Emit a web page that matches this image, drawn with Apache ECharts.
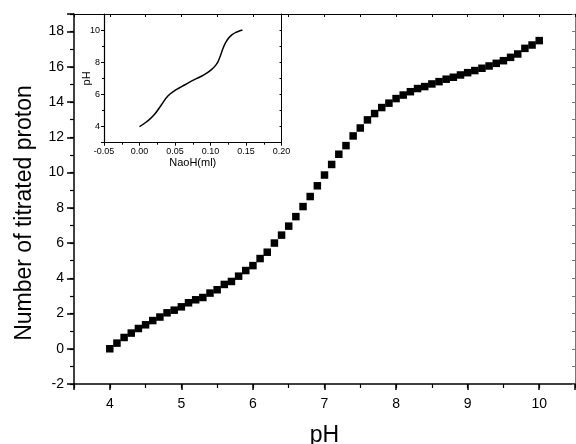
<!DOCTYPE html>
<html>
<head>
<meta charset="utf-8">
<script src="https://cdn.jsdelivr.net/npm/echarts@6/dist/echarts.min.js"></script>
<style>
html,body{margin:0;padding:0;background:#fff;}
#chart{width:576px;height:444px;}
</style>
</head>
<body>
<div id="chart"></div>
<script>
// Main chart: pH vs number of titrated proton
const pHValues = [4.0,4.1,4.2,4.3,4.4,4.5,4.6,4.7,4.8,4.9,
  5.0,5.1,5.2,5.3,5.4,5.5,5.6,5.7,5.8,5.9,
  6.0,6.1,6.2,6.3,6.4,6.5,6.6,6.7,6.8,6.9,
  7.0,7.1,7.2,7.3,7.4,7.5,7.6,7.7,7.8,7.9,
  8.0,8.1,8.2,8.3,8.4,8.5,8.6,8.7,8.8,8.9,
  9.0,9.1,9.2,9.3,9.4,9.5,9.6,9.7,9.8,9.9,10.0];
const protonValues = [0.00,0.32,0.64,0.89,1.15,1.36,1.60,1.80,2.04,2.19,
  2.38,2.61,2.78,2.91,3.16,3.35,3.65,3.82,4.12,4.44,
  4.72,5.12,5.48,6.00,6.45,6.96,7.50,8.07,8.64,9.25,
  9.86,10.46,11.04,11.53,12.08,12.53,12.99,13.35,13.69,13.94,
  14.20,14.40,14.59,14.77,14.88,15.03,15.16,15.30,15.41,15.54,
  15.67,15.79,15.92,16.05,16.20,16.35,16.54,16.73,17.05,17.24,17.49];

// Inset: NaOH volume vs pH
const naohValues = [0,0.01,0.02,0.03,0.04,0.05,0.06,0.07,0.08,0.09,0.10,0.108,0.113,0.118,0.123,0.13,0.138,0.145];
const insetPH   = [4.0,4.3,4.7,5.3,5.9,6.25,6.5,6.75,6.98,7.2,7.5,7.85,8.3,8.9,9.35,9.7,9.9,10.0];

const mainData = pHValues.map((x,i)=>[x, protonValues[i]]);
const insetData = naohValues.map((x,i)=>[x, insetPH[i]]);

const FONT = 'Liberation Sans, Arial, sans-serif';
const isInt = v => Math.abs(v - Math.round(v)) < 1e-9;

const chart = echarts.init(document.getElementById('chart'), null, {renderer:'canvas'});
const noSplit = {show:false};
const option = {
  animation:false,
  backgroundColor:'#fff',
  textStyle:{fontFamily:FONT},
  grid:[
    {left:74, top:14, right:1, bottom:60, containLabel:false, outerBoundsMode:'none'},
    {left:104, top:14, right:294.5, bottom:301.3, containLabel:false, outerBoundsMode:'none',
     show:true, backgroundColor:'#fff', borderWidth:0}
  ],
  xAxis:[
    {gridIndex:0, type:'value', min:3.5, max:10.5, splitNumber:7, position:'bottom',
     axisLine:{show:true, onZero:false, lineStyle:{color:'#000', width:1.5}},
     axisTick:{show:true, length:6, lineStyle:{color:'#000', width:1.5}},
     axisLabel:{fontSize:14, color:'#000', margin:13, fontFamily:FONT,
       formatter:v=>isInt(v)?String(Math.round(v)):''},
     splitLine:noSplit,
     name:'pH', nameLocation:'middle', nameGap:40,
     nameTextStyle:{fontSize:23, color:'#000', fontFamily:FONT}},
    {gridIndex:0, type:'value', min:3.5, max:10.5, interval:0.5, position:'bottom',
     axisLine:{show:false, onZero:false},
     axisTick:{show:true, length:4, lineStyle:{color:'#000', width:1.2}},
     axisLabel:{show:false}, splitLine:noSplit},
    {gridIndex:0, type:'value', min:3.5, max:10.5, interval:0.5, position:'top',
     axisLine:{show:true, onZero:false, lineStyle:{color:'#000', width:1}},
     axisTick:{show:true, inside:true, length:3, lineStyle:{color:'#000'}},
     axisLabel:{show:false}, splitLine:noSplit},
    {gridIndex:1, type:'value', min:-0.05, max:0.20, interval:0.05, position:'bottom',
     axisLine:{show:true, onZero:false, lineStyle:{color:'#000', width:1.2}},
     axisTick:{show:true, length:3, lineStyle:{color:'#000'}},
     minorTick:{show:true, splitNumber:2, length:2, lineStyle:{color:'#000'}},
     axisLabel:{fontSize:9, color:'#000', margin:4, fontFamily:FONT,
       formatter:v=>(Math.abs(v)<1e-9?0:v).toFixed(2)},
     splitLine:noSplit,
     name:'NaoH(ml)', nameLocation:'middle', nameGap:15,
     nameTextStyle:{fontSize:11, color:'#000', fontFamily:FONT}}
  ],
  yAxis:[
    {gridIndex:0, type:'value', min:-2, max:19, interval:2, position:'left',
     axisLine:{show:true, onZero:false, lineStyle:{color:'#000', width:1.5}},
     axisTick:{show:true, length:7, lineStyle:{color:'#000', width:1.5}},
     axisLabel:{fontSize:14, color:'#000', margin:10, fontFamily:FONT,
       formatter:v=>(v<=18 && isInt(v/2))?String(Math.round(v)):''},
     splitLine:noSplit,
     name:'Number of titrated proton', nameLocation:'middle', nameGap:38,
     nameTextStyle:{fontSize:23, color:'#000', fontFamily:FONT, padding:[0,28,0,0]}},
    {gridIndex:0, type:'value', min:-2, max:19, interval:1, position:'left',
     axisLine:{show:false, onZero:false},
     axisTick:{show:true, length:4, lineStyle:{color:'#000', width:1.2}},
     axisLabel:{show:false}, splitLine:noSplit},
    {gridIndex:0, type:'value', min:-2, max:19, interval:1, position:'right',
     axisLine:{show:true, onZero:false, lineStyle:{color:'#777', width:1}},
     axisTick:{show:true, inside:true, length:3, lineStyle:{color:'#777'}},
     axisLabel:{show:false}, splitLine:noSplit},
    {gridIndex:1, type:'value', min:3, max:11, splitNumber:4, position:'left',
     axisLine:{show:true, onZero:false, lineStyle:{color:'#000', width:1.2}},
     axisTick:{show:true, length:3, lineStyle:{color:'#000'}},
     axisLabel:{fontSize:9, color:'#000', margin:4, fontFamily:FONT,
       formatter:v=>(isInt(v/2))?String(Math.round(v)):''},
     splitLine:noSplit,
     name:'pH', nameLocation:'middle', nameGap:12, nameMoveOverlap:false,
     nameTextStyle:{fontSize:11, color:'#000', fontFamily:FONT}},
    {gridIndex:1, type:'value', min:3, max:11, interval:1, position:'left',
     axisLine:{show:false, onZero:false},
     axisTick:{show:true, length:2, lineStyle:{color:'#000'}},
     axisLabel:{show:false}, splitLine:noSplit},
    {gridIndex:1, type:'value', min:3, max:11, interval:1, position:'right',
     axisLine:{show:true, onZero:false, lineStyle:{color:'#000', width:1}},
     axisTick:{show:true, inside:true, length:2, lineStyle:{color:'#000'}},
     axisLabel:{show:false}, splitLine:noSplit}
  ],
  series:[
    {type:'scatter', xAxisIndex:0, yAxisIndex:0, data:mainData,
     symbol:'rect', symbolSize:7.5, itemStyle:{color:'#000', opacity:1}, silent:true},
    {type:'line', xAxisIndex:3, yAxisIndex:3, data:insetData, smooth:0.5,
     showSymbol:false, symbol:'none', lineStyle:{color:'#000', width:1.5}, silent:true}
  ]
};
chart.setOption(option);
</script>
</body>
</html>
